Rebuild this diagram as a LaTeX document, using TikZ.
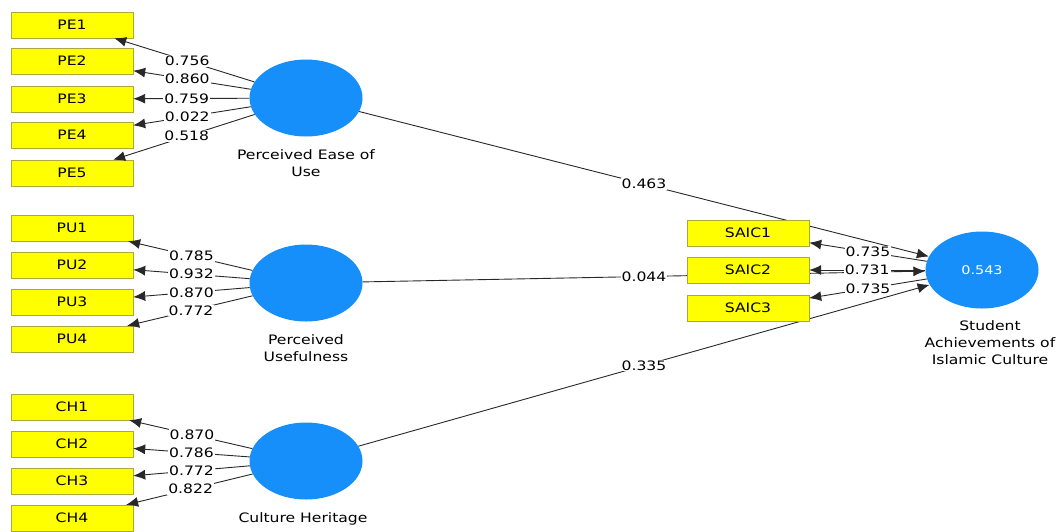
\documentclass[tikz,border=0pt]{standalone}
\usepackage{fontspec}
\setmainfont{DejaVu Sans}[FakeStretch=1.2]
\usetikzlibrary{arrows.meta, positioning, shapes}

\definecolor{lvblue}{RGB}{22,143,250}
\definecolor{mvyellow}{RGB}{255,255,0}
\definecolor{mvedge}{RGB}{170,170,60}
\definecolor{pathgray}{RGB}{40,40,40}

\begin{document}
\begin{tikzpicture} [x=1pt, y=-1pt,
    font=\fontsize{13}{17}\selectfont,
    indicator/.style={rectangle, draw=mvedge, fill=mvyellow, minimum width=122pt, minimum height=26pt, inner sep=0pt},
    construct/.style={ellipse, fill=lvblue, minimum width=113pt, minimum height=77pt, inner sep=0pt},
    caption/.style={align=center, inner sep=0pt},
    link/.style={draw=pathgray, line width=0.9pt, -{Latex[length=12pt,width=10pt]}},
    every edge/.style={draw, link}]

\useasboundingbox (0,0) rectangle (1056,531);
\fill [white] (0,0) rectangle (1056,531);

% Latent variables
\node (pe) [construct] at (306, 98) {};
\node (pu) [construct] at (306, 283) {};
\node (ch) [construct] at (306, 461) {};
\node (saic) [construct, text=white] at (982, 270) {\fontsize{12}{14}\selectfont 0.543};

\node [caption] at (306, 163) {Perceived Ease of\\Use};
\node [caption] at (306, 348) {Perceived\\Usefulness};
\node [caption] at (303, 519) {Culture Heritage};
\node [caption] at (990, 343) {Student\\Achievements of\\Islamic Culture};

% Indicators
\node (pe1) [indicator] at (72, 25) {PE1};
\node (pe2) [indicator] at (72, 61) {PE2};
\node (pe3) [indicator] at (72, 99) {PE3};
\node (pe4) [indicator] at (72, 135) {PE4};
\node (pe5) [indicator] at (72, 173) {PE5};

\node (pu1) [indicator] at (72, 228) {PU1};
\node (pu2) [indicator] at (72, 265) {PU2};
\node (pu3) [indicator] at (72, 302) {PU3};
\node (pu4) [indicator] at (72, 339) {PU4};

\node (ch1) [indicator] at (72, 407) {CH1};
\node (ch2) [indicator] at (72, 444) {CH2};
\node (ch3) [indicator] at (72, 481) {CH3};
\node (ch4) [indicator] at (72, 518) {CH4};

% Inner model
\path [nodes={fill=white, inner sep=1pt}]
(pe) edge [pos=0.5] node {0.463} (saic)
(pu) edge [pos=0.5] node {0.044} (saic)
(ch) edge [pos=0.5] node {0.335} (saic);

% Student indicators sit on top of the inner paths
\node (saic1) [indicator] at (748, 233) {SAIC1};
\node (saic2) [indicator] at (748, 270) {SAIC2};
\node (saic3) [indicator] at (748, 308) {SAIC3};

% Outer loadings
\path [nodes={fill=white, inner sep=1pt}]
(pe) edge [pos=0.48] node {0.756} (pe1)
(pe) edge [pos=0.54] node {0.860} (pe2)
(pe) edge [pos=0.54] node {0.759} (pe3)
(pe) edge [pos=0.54] node {0.022} (pe4)
(pe) edge [pos=0.48] node {0.518} (pe5)
(pu) edge [pos=0.49] node {0.785} (pu1)
(pu) edge [pos=0.5] node {0.932} (pu2)
(pu) edge [pos=0.5] node {0.870} (pu3)
(pu) edge [pos=0.49] node {0.772} (pu4)
(ch) edge [pos=0.49] node {0.870} (ch1)
(ch) edge [pos=0.5] node {0.786} (ch2)
(ch) edge [pos=0.5] node {0.772} (ch3)
(ch) edge [pos=0.49] node {0.822} (ch4)
(saic) edge [pos=0.5] node {0.735} (saic1)
(saic) edge [pos=0.5] node {0.731} (saic2)
(saic) edge [pos=0.5] node {0.735} (saic3);
\end{tikzpicture}
\end{document}
